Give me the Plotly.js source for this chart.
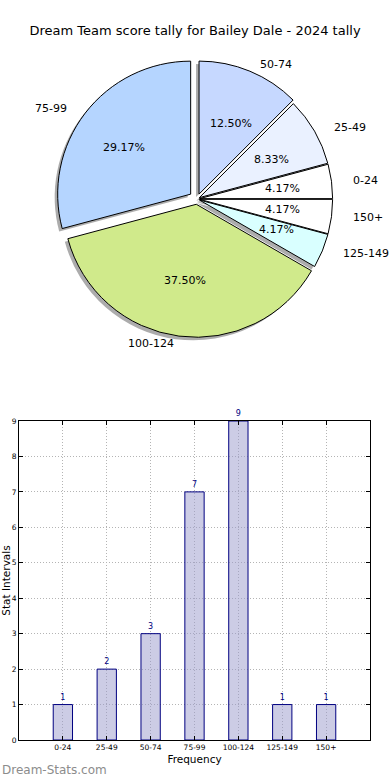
<!DOCTYPE html>
<html><head><meta charset="utf-8">
<script src="https://cdn.plot.ly/plotly-3.0.1.min.js"></script>
<style>html,body{margin:0;padding:0;background:#fff}#chart{width:390px;height:780px}</style>
</head><body><div id="chart"></div>
<script>
const categories = ['0-24','25-49','50-74','75-99','100-124','125-149','150+'];
const counts = [1, 2, 3, 7, 9, 1, 1];
const pieColors = ['#ffffff','#eaf1ff','#c6d8ff','#b5d5ff','#d0ea8b','#d9ffff','#ffffff'];
const pulls = [0.02, 0.02, 0.04, 0.06, 0.04, 0.02, 0.02];
const titleText = 'Dream Team score tally for Bailey Dale - 2024 tally';
const xTitle = 'Frequency';
const yTitle = 'Stat Intervals';
const watermark = 'Dream-Stats.com';

const W = 390, H = 780;
const px = x => x / W, py = y => 1 - y / H;
const FONT = 'DejaVu Sans';
const CX = 197, CY = 199, R = 133;
const RX = 139, RY = 128; // text placement radii (reference pie is slightly elliptical)
const maxPull = Math.max(...pulls);
const BOX = R * (1 + maxPull);
const SH = 3; // shadow offset px

const total = counts.reduce((a, b) => a + b, 0);
// Plotly's counterclockwise pies put the first slice clockwise of the rotation line,
// so shift by the first slice to start the first slice at 3 o'clock.
const rotation = 90 - 360 * counts[0] / total;

const annotations = [];
let cum = 0;
counts.forEach((v, i) => {
  const mid = (cum + v / 2) / total * 2 * Math.PI;
  cum += v;
  const c = Math.cos(mid), s = Math.sin(mid);
  const p = pulls[i];
  annotations.push({
    xref: 'paper', yref: 'paper', showarrow: false,
    x: px(CX + (p + 0.6) * RX * c), y: py(CY - (p + 0.6) * RY * s),
    xanchor: 'center', yanchor: 'middle',
    text: (v / total * 100).toFixed(2) + '%',
    font: {family: FONT, size: 11, color: '#000'}
  });
  annotations.push({
    xref: 'paper', yref: 'paper', showarrow: false,
    x: px(CX + (p + 1.1) * RX * c), y: py(CY - (p + 1.1) * RY * s),
    xanchor: c >= 0 ? 'left' : 'right', yanchor: 'middle',
    text: categories[i],
    font: {family: FONT, size: 11, color: '#000'}
  });
});
annotations.push({
  xref: 'paper', yref: 'paper', showarrow: false,
  x: 0, y: py(770), xanchor: 'left', yanchor: 'middle',
  text: watermark, font: {family: FONT, size: 12, color: '#8c8c8c'}
});

const pieCommon = {
  type: 'pie', labels: categories, values: counts, sort: false,
  direction: 'counterclockwise', rotation: rotation, pull: pulls,
  textinfo: 'none', showlegend: false
};

const shadow = Object.assign({}, pieCommon, {
  marker: {colors: categories.map(() => 'rgba(90,90,90,0.5)'), line: {width: 0}},
  domain: {x: [px(CX - SH - BOX), px(CX - SH + BOX)], y: [py(CY + SH + BOX), py(CY + SH - BOX)]},
  hoverinfo: 'skip'
});
const pie = Object.assign({}, pieCommon, {
  marker: {colors: pieColors, line: {color: '#000', width: 1}},
  domain: {x: [px(CX - BOX), px(CX + BOX)], y: [py(CY + BOX), py(CY - BOX)]}
});

const bars = {
  type: 'bar', x: categories, y: counts, width: 0.44,
  marker: {color: 'rgba(153,153,204,0.5)', line: {color: '#000080', width: 1}},
  text: counts.map(String), textposition: 'outside', constraintext: 'none',
  textfont: {family: FONT, size: 8, color: '#000080'},
  cliponaxis: false, showlegend: false, xaxis: 'x', yaxis: 'y'
};

const axisCommon = {
  showline: true, linecolor: '#000', linewidth: 1, mirror: 'ticks',
  ticks: 'inside', ticklen: 4, tickcolor: '#000',
  showgrid: true, gridcolor: '#b4b4b4', griddash: '1px,2px', gridwidth: 1,
  zeroline: false, tickfont: {family: FONT, size: 7.5, color: '#000'}
};

const layout = {
  width: W, height: H, margin: {l: 0, r: 0, t: 0, b: 0},
  paper_bgcolor: '#fff', plot_bgcolor: '#fff',
  font: {family: FONT},
  title: {text: titleText, x: 0.5, xanchor: 'center', y: py(30), yanchor: 'middle',
          font: {family: FONT, size: 13, color: '#000'}},
  xaxis: Object.assign({}, axisCommon, {
    type: 'category', range: [-1, 7], domain: [px(19), px(370)],
    title: {text: xTitle, font: {family: FONT, size: 10.5, color: '#000'}, standoff: 4}
  }),
  yaxis: Object.assign({}, axisCommon, {
    range: [0, 9], dtick: 1, domain: [py(740), py(421)],
    title: {text: yTitle, font: {family: FONT, size: 10.5, color: '#000'}, standoff: 2}
  }),
  annotations: annotations
};

Plotly.newPlot('chart', [shadow, pie, bars], layout, {displayModeBar: false, staticPlot: true});
</script></body></html>
